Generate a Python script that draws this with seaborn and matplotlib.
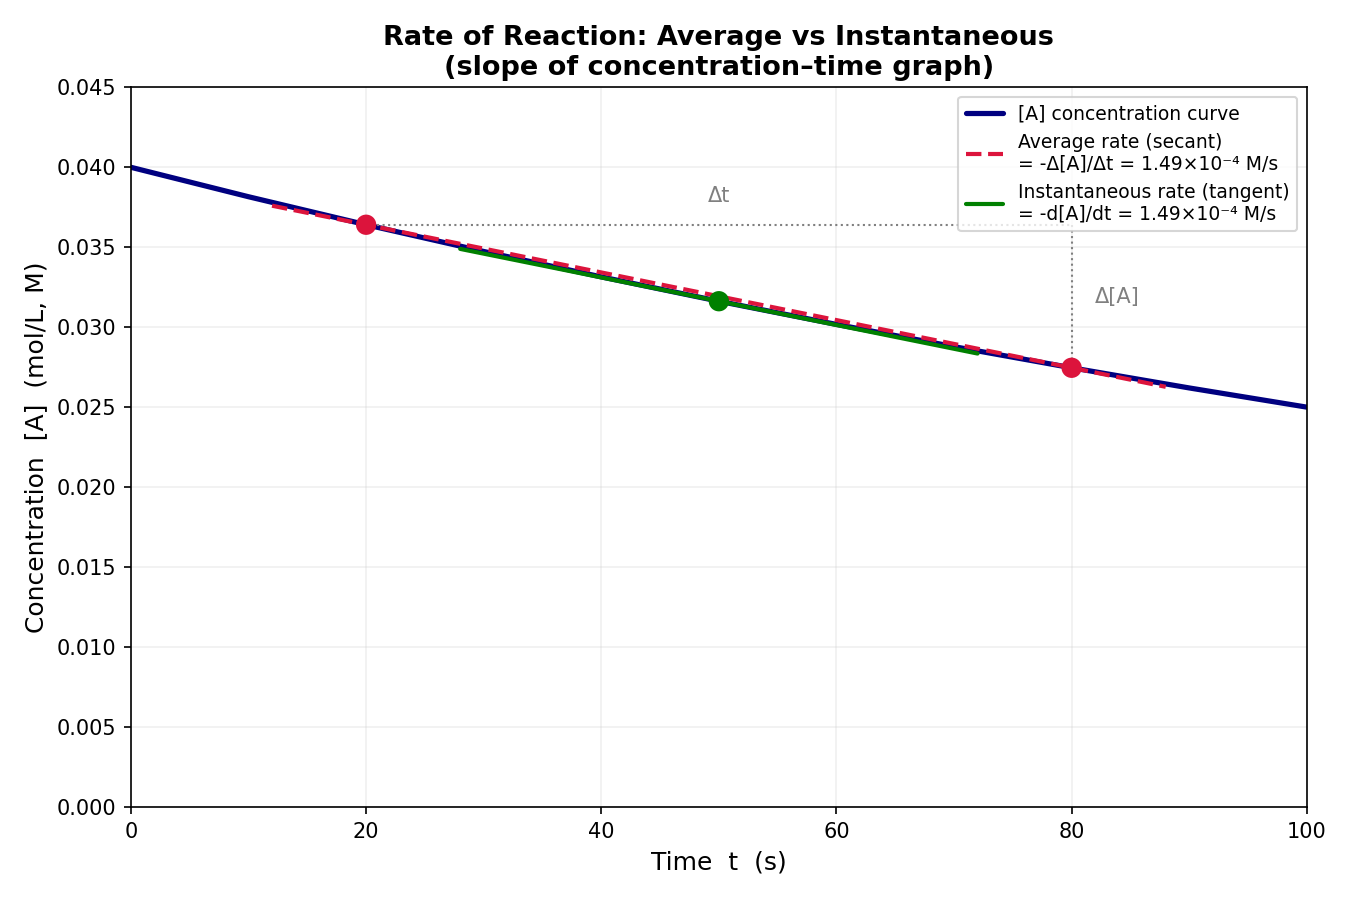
import numpy as np
import pandas as pd
import matplotlib
matplotlib.use("Agg")
import matplotlib.pyplot as plt
import seaborn as sns

# Concentration curve (t in s, [A] in M)
time_s = [0, 10, 20, 30, 40, 50, 60, 70, 80, 90, 100]
conc_M = [0.04000, 0.03816, 0.03641, 0.03474, 0.03315, 0.03163,
          0.03018, 0.02879, 0.02747, 0.02621, 0.02501]

# Secant (average rate) segment ends
secant_t = [12, 88]
secant_c = [0.03760, 0.02628]
secant_pts_t = [20, 80]
secant_pts_c = [0.03641, 0.02747]

# Tangent (instantaneous rate) segment ends
tangent_t = [28, 72]
tangent_c = [0.03490, 0.02836]
tangent_pt_t = [50]
tangent_pt_c = [0.03163]

avg_rate_label = "Average rate (secant)\n= -Δ[A]/Δt = 1.49×10⁻⁴ M/s"
inst_rate_label = "Instantaneous rate (tangent)\n= -d[A]/dt = 1.49×10⁻⁴ M/s"

sns.set_style("ticks")
plt.rcParams['font.family'] = ['DejaVu Sans']
# back to plain black text and spines
for key in ["text.color", "axes.labelcolor", "xtick.color", "ytick.color", "axes.edgecolor"]:
    plt.rcParams[key] = "black"

fig, ax = plt.subplots(figsize=(9, 6), dpi=150)

curve = pd.DataFrame({"t": time_s, "A": conc_M})
sns.lineplot(data=curve, x="t", y="A", ax=ax, color="navy", linewidth=2.5,
             label="[A] concentration curve")
sns.lineplot(x=secant_t, y=secant_c, ax=ax, color="crimson", linewidth=2,
             linestyle="--", label=avg_rate_label)
sns.lineplot(x=tangent_t, y=tangent_c, ax=ax, color="green", linewidth=2,
             label=inst_rate_label)
sns.scatterplot(x=secant_pts_t, y=secant_pts_c, ax=ax, color="crimson", s=95,
                edgecolor="none", zorder=5)
sns.scatterplot(x=tangent_pt_t, y=tangent_pt_c, ax=ax, color="green", s=95,
                edgecolor="none", zorder=5)

# Delta guides
ax.plot([secant_pts_t[0], secant_pts_t[1]], [secant_pts_c[0], secant_pts_c[0]],
        color="gray", linestyle=":", linewidth=1)
ax.plot([secant_pts_t[1], secant_pts_t[1]], [secant_pts_c[0], secant_pts_c[1]],
        color="gray", linestyle=":", linewidth=1)
ax.text(50, 0.0376, "Δt", color="gray", fontsize=10, ha="center", va="bottom")
ax.text(82, 0.0319, "Δ[A]", color="gray", fontsize=10, ha="left", va="center")

ax.set_xlim(0, 100)
ax.set_ylim(0, 0.045)
ax.set_yticks(np.arange(0, 0.0451, 0.005))
ax.yaxis.set_major_formatter(matplotlib.ticker.FormatStrFormatter("%.3f"))
ax.grid(True, alpha=0.3)
ax.set_xlabel("Time  t  (s)", fontsize=12)
ax.set_ylabel("Concentration  [A]  (mol/L, M)", fontsize=12)
ax.set_title("Rate of Reaction: Average vs Instantaneous\n(slope of concentration–time graph)",
             fontsize=13, fontweight="bold")
ax.legend(loc="upper right", fontsize=9)

fig.subplots_adjust(left=0.097, right=0.968, top=0.903, bottom=0.103)
fig.savefig("out.png", dpi=150)
